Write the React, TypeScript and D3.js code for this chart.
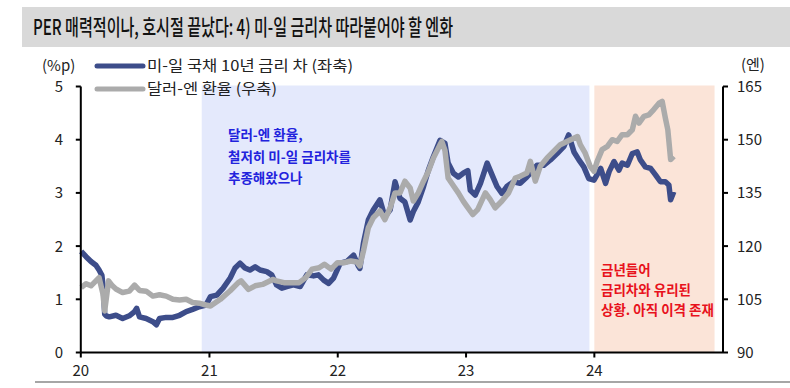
import React from "react";
import { scaleTime, scaleLinear, line as d3Line, timeParse } from "d3";

// 미-일 국채 10년 금리 차 (%p, 좌축)
const spreadData: [string, number][] = [
  ["2020-01-02", 1.9], ["2020-01-16", 1.8], ["2020-01-30", 1.71], ["2020-02-13", 1.64],
  ["2020-02-22", 1.55], ["2020-03-01", 1.45], ["2020-03-05", 1.2], ["2020-03-09", 0.72],
  ["2020-03-13", 0.69], ["2020-03-22", 0.67], ["2020-04-10", 0.7], ["2020-04-29", 0.64],
  ["2020-05-18", 0.69], ["2020-06-02", 0.77], ["2020-06-08", 0.83], ["2020-06-16", 0.67],
  ["2020-07-05", 0.64], ["2020-07-24", 0.58], ["2020-08-03", 0.52], ["2020-08-12", 0.64],
  ["2020-08-31", 0.66], ["2020-09-19", 0.66], ["2020-10-08", 0.7], ["2020-10-27", 0.77],
  ["2020-11-14", 0.81], ["2020-12-03", 0.86], ["2020-12-22", 0.89], ["2021-01-04", 1.05],
  ["2021-01-22", 1.08], ["2021-02-09", 1.21], ["2021-03-01", 1.4], ["2021-03-15", 1.59],
  ["2021-03-29", 1.68], ["2021-04-12", 1.59], ["2021-04-26", 1.55], ["2021-05-11", 1.61],
  ["2021-05-25", 1.55], ["2021-06-13", 1.52], ["2021-06-27", 1.46], ["2021-07-11", 1.27],
  ["2021-07-26", 1.21], ["2021-08-09", 1.24], ["2021-08-28", 1.27], ["2021-09-16", 1.24],
  ["2021-10-05", 1.46], ["2021-10-24", 1.44], ["2021-11-07", 1.46], ["2021-11-22", 1.36],
  ["2021-12-06", 1.3], ["2021-12-20", 1.4], ["2022-01-08", 1.68], ["2022-01-27", 1.71],
  ["2022-02-15", 1.83], ["2022-03-01", 1.62], ["2022-03-05", 1.58], ["2022-03-15", 2.05],
  ["2022-03-29", 2.49], ["2022-04-12", 2.68], ["2022-05-01", 2.87], ["2022-05-15", 2.55],
  ["2022-05-30", 2.68], ["2022-06-13", 3.21], ["2022-06-27", 2.9], ["2022-07-11", 2.83],
  ["2022-07-26", 2.49], ["2022-08-04", 2.65], ["2022-08-18", 2.83], ["2022-09-02", 3.12],
  ["2022-09-16", 3.43], ["2022-09-30", 3.68], ["2022-10-19", 3.99], ["2022-11-02", 3.93],
  ["2022-11-11", 3.56], ["2022-11-26", 3.37], ["2022-12-10", 3.3], ["2022-12-24", 3.37],
  ["2023-01-06", 3.42], ["2023-01-13", 3.05], ["2023-01-27", 2.96], ["2023-02-11", 3.18],
  ["2023-03-02", 3.56], ["2023-03-16", 3.34], ["2023-03-30", 3.12], ["2023-04-13", 2.99],
  ["2023-04-27", 3.12], ["2023-05-16", 3.21], ["2023-06-04", 3.18], ["2023-06-23", 3.3],
  ["2023-07-07", 3.4], ["2023-07-22", 3.52], ["2023-08-10", 3.52], ["2023-08-29", 3.62],
  ["2023-09-17", 3.74], ["2023-10-06", 3.87], ["2023-10-20", 4.09], ["2023-11-04", 3.77],
  ["2023-11-18", 3.62], ["2023-12-02", 3.49], ["2023-12-16", 3.27], ["2023-12-31", 3.24],
  ["2024-01-19", 3.46], ["2024-02-02", 3.18], ["2024-02-12", 3.4], ["2024-02-26", 3.59],
  ["2024-03-11", 3.43], ["2024-03-20", 3.56], ["2024-04-04", 3.52], ["2024-04-18", 3.74],
  ["2024-05-02", 3.77], ["2024-05-11", 3.62], ["2024-05-25", 3.49], ["2024-06-09", 3.46],
  ["2024-06-23", 3.34], ["2024-07-07", 3.21], ["2024-07-21", 3.21], ["2024-07-31", 3.15],
  ["2024-08-05", 2.87], ["2024-08-14", 3.02],
];

// 달러-엔 환율 (엔, 우축)
const usdJpyData: [string, number][] = [
  ["2020-01-02", 108.3], ["2020-01-16", 109.4], ["2020-01-30", 108.8], ["2020-02-13", 110.2],
  ["2020-02-22", 111.1], ["2020-03-04", 106.5], ["2020-03-09", 101.7], ["2020-03-20", 110.2],
  ["2020-03-31", 108.8], ["2020-04-10", 107.9], ["2020-04-29", 106.9], ["2020-05-18", 107.3],
  ["2020-06-02", 109.0], ["2020-06-16", 107.5], ["2020-07-05", 107.3], ["2020-07-24", 105.9],
  ["2020-08-12", 106.3], ["2020-08-31", 105.9], ["2020-09-19", 105.0], ["2020-10-08", 104.8],
  ["2020-10-27", 105.0], ["2020-11-14", 104.1], ["2020-12-03", 103.9], ["2020-12-22", 103.4],
  ["2021-01-04", 103.1], ["2021-02-01", 105.0], ["2021-03-01", 107.4], ["2021-03-24", 109.7],
  ["2021-04-01", 110.2], ["2021-04-22", 107.8], ["2021-05-11", 108.8], ["2021-06-01", 109.2],
  ["2021-06-30", 110.6], ["2021-07-11", 110.2], ["2021-08-01", 109.7], ["2021-08-24", 109.7],
  ["2021-09-13", 109.7], ["2021-10-02", 111.1], ["2021-10-20", 113.5], ["2021-11-09", 113.9],
  ["2021-11-24", 114.9], ["2021-12-13", 113.5], ["2021-12-31", 115.3], ["2022-01-18", 115.3],
  ["2022-02-07", 115.8], ["2022-02-24", 115.5], ["2022-03-05", 114.4], ["2022-03-15", 118.6],
  ["2022-03-29", 125.2], ["2022-04-12", 128.0], ["2022-05-01", 129.9], ["2022-05-15", 127.5],
  ["2022-05-30", 130.8], ["2022-06-13", 135.0], ["2022-06-27", 135.0], ["2022-07-11", 138.3],
  ["2022-07-26", 136.4], ["2022-08-04", 132.7], ["2022-08-18", 135.0], ["2022-09-02", 138.3],
  ["2022-09-16", 141.1], ["2022-09-30", 144.8], ["2022-10-19", 148.6], ["2022-10-24", 149.5],
  ["2022-11-02", 147.0], ["2022-11-11", 139.2], ["2022-11-26", 137.0], ["2022-12-10", 135.0],
  ["2022-12-24", 132.7], ["2023-01-05", 131.0], ["2023-01-20", 128.9], ["2023-02-03", 130.3],
  ["2023-02-25", 135.0], ["2023-03-11", 133.1], ["2023-03-25", 130.8], ["2023-04-13", 132.7],
  ["2023-05-02", 135.0], ["2023-05-21", 139.2], ["2023-06-04", 139.7], ["2023-06-23", 140.6],
  ["2023-07-03", 143.9], ["2023-07-17", 138.3], ["2023-07-31", 142.5], ["2023-08-19", 144.8],
  ["2023-09-07", 146.7], ["2023-09-26", 148.6], ["2023-10-15", 149.5], ["2023-11-14", 150.9],
  ["2023-11-22", 148.6], ["2023-12-06", 146.2], ["2023-12-20", 142.5], ["2023-12-31", 141.1],
  ["2024-01-09", 143.9], ["2024-01-23", 147.2], ["2024-02-07", 148.1], ["2024-02-21", 150.0],
  ["2024-03-06", 149.5], ["2024-03-20", 151.4], ["2024-04-04", 151.4], ["2024-04-18", 152.8],
  ["2024-04-27", 156.6], ["2024-05-07", 154.7], ["2024-05-21", 156.6], ["2024-06-04", 157.0],
  ["2024-06-18", 158.5], ["2024-07-03", 160.3], ["2024-07-12", 160.8], ["2024-07-21", 156.1],
  ["2024-07-28", 152.8], ["2024-08-05", 144.4], ["2024-08-14", 145.3],
];

const leftTicks = [0, 1, 2, 3, 4, 5];
const rightTicks = [90, 105, 120, 135, 150, 165];
const yearTicks = ["2020-01-01", "2021-01-01", "2022-01-01", "2023-01-01", "2024-01-01"];
const yearLabels = ["20", "21", "22", "23", "24"];

const blueZone = ["2020-12-10", "2023-12-18"];
const peachZone = ["2024-01-01", "2024-12-08"];

const title = "PER 매력적이나, 호시절 끝났다: 4) 미-일 금리차 따라붙어야 할 엔화";
const legendNames = ["미-일 국채 10년 금리 차 (좌축)", "달러-엔 환율 (우축)"];
const blueNote = ["달러-엔 환율,", "철저히 미-일 금리차를", "추종해왔으나"];
const redNote = ["금년들어", "금리차와 유리된", "상황. 아직 이격 존재"];

const parse = timeParse("%Y-%m-%d");
const FONT = "'Noto Sans CJK KR', 'Noto Sans', sans-serif";
const NAVY = "#3d4d8a";
const GRAY = "#ababab";

export default function App() {
  const left = 80.8;
  const right = 723;
  const top = 86.5;
  const bottom = 352.5;

  const x = scaleTime()
    .domain([parse("2020-01-01")!, parse("2025-01-01")!])
    .range([left, right]);
  const yL = scaleLinear().domain([0, 5]).range([bottom, top]);
  const yR = scaleLinear().domain([90, 165]).range([bottom, top]);

  const spreadLine = d3Line<[string, number]>()
    .x((d) => x(parse(d[0])!))
    .y((d) => yL(d[1]));
  const fxLine = d3Line<[string, number]>()
    .x((d) => x(parse(d[0])!))
    .y((d) => yR(d[1]));

  const zone = (z: string[], fill: string) => (
    <rect
      x={x(parse(z[0])!)}
      y={top - 1}
      width={x(parse(z[1])!) - x(parse(z[0])!)}
      height={bottom - top + 1}
      fill={fill}
    />
  );

  return (
    <svg
      width={790}
      height={388}
      style={{ position: "absolute", left: 0, top: 0, background: "#fff" }}
      fontFamily={FONT}
    >
      {/* title bar */}
      <rect x={22} y={7} width={768} height={40} fill="#d9d9d9" />
      <text x={33} y={35} fontSize={22} fontWeight={500} fill="#111" textLength={420} lengthAdjust="spacingAndGlyphs">
        {title}
      </text>

      {/* shaded periods */}
      {zone(blueZone, "#e4e9fc")}
      {zone(peachZone, "#fbe4d8")}

      {/* legend */}
      <text x={42} y={71} fontSize={15} fill="#222">(%p)</text>
      <line x1={97} x2={143} y1={66} y2={66} stroke={NAVY} strokeWidth={5} strokeLinecap="round" />
      <text x={147} y={71} fontSize={15} fill="#222" textLength={206} lengthAdjust="spacingAndGlyphs">{legendNames[0]}</text>
      <line x1={97} x2={143} y1={89} y2={89} stroke={GRAY} strokeWidth={5} strokeLinecap="round" />
      <text x={147} y={94} fontSize={15} fill="#222" textLength={130} lengthAdjust="spacingAndGlyphs">{legendNames[1]}</text>
      <text x={741} y={70} fontSize={15} fill="#222">(엔)</text>

      {/* series */}
      <path d={spreadLine(spreadData) || ""} fill="none" stroke={NAVY} strokeWidth={5.5} strokeLinejoin="round" />
      <path d={fxLine(usdJpyData) || ""} fill="none" stroke={GRAY} strokeWidth={5.5} strokeLinejoin="round" />

      {/* left axis */}
      <line x1={left} x2={left} y1={top} y2={bottom} stroke="#000" strokeWidth={2} />
      {leftTicks.map((t) => (
        <g key={t}>
          <line x1={left - 5} x2={left} y1={yL(t)} y2={yL(t)} stroke="#000" strokeWidth={2} />
          <text x={63} y={yL(t) + 5.5} fontSize={15} textAnchor="end" fill="#222">{t}</text>
        </g>
      ))}

      {/* right axis */}
      <line x1={right} x2={right} y1={top} y2={bottom} stroke="#000" strokeWidth={2} />
      {rightTicks.map((t) => (
        <g key={t}>
          <line x1={right} x2={right + 5} y1={yR(t)} y2={yR(t)} stroke="#000" strokeWidth={2} />
          <text x={737} y={yR(t) + 5.5} fontSize={15} fill="#222">{t}</text>
        </g>
      ))}

      {/* x axis */}
      <line x1={left} x2={right} y1={bottom} y2={bottom} stroke="#000" strokeWidth={2} />
      {yearTicks.map((d, i) => (
        <g key={d}>
          <line x1={x(parse(d)!)} x2={x(parse(d)!)} y1={bottom} y2={bottom + 5} stroke="#000" strokeWidth={2} />
          <text x={x(parse(d)!)} y={376} fontSize={15} textAnchor="middle" fill="#222">{yearLabels[i]}</text>
        </g>
      ))}

      {/* annotations */}
      {blueNote.map((s, i) => (
        <text key={s} x={228} y={140 + i * 21.5} fontSize={13.5} fontWeight="bold" fill="#2222dd">{s}</text>
      ))}
      {redNote.map((s, i) => (
        <text key={s} x={601} y={275 + i * 20} fontSize={13.5} fontWeight="bold" fill="#e8121c">{s}</text>
      ))}

      {/* bottom rule */}
      <line x1={35} x2={790} y1={382} y2={382} stroke="#a6a6a6" strokeWidth={2} />
    </svg>
  );
}
